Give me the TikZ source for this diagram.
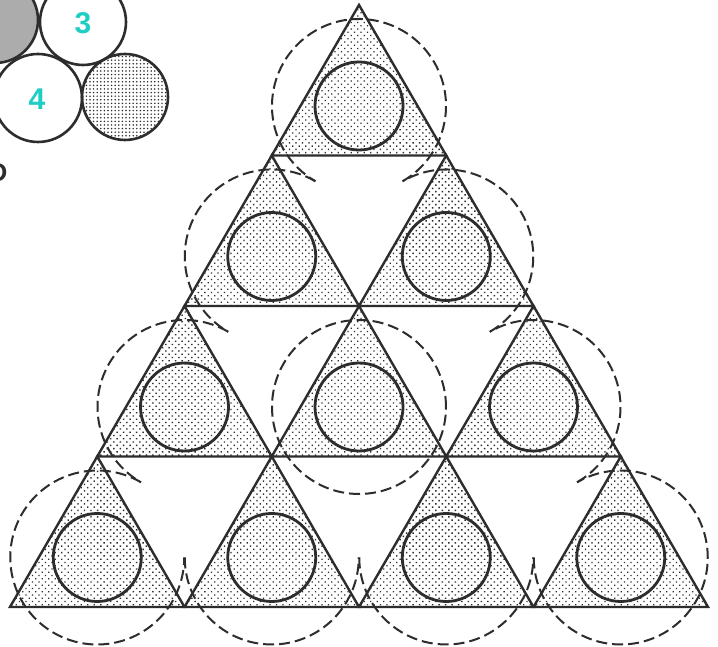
\documentclass[tikz,border=0pt]{standalone}
\usepackage{fontspec}
\setsansfont{Liberation Sans}
\usetikzlibrary{patterns.meta}
\definecolor{ink}{RGB}{45,45,45}
\definecolor{digit}{RGB}{30,205,195}
\begin{document}
\begin{tikzpicture}[x=1pt,y=1pt,
  tri/.style={draw=ink, line width=2.4pt, line join=miter,
    pattern={Dots[distance=4.6pt,angle=45,radius=0.95pt]}, pattern color=ink},
  inner/.style={draw=ink, line width=2.8pt},
  ring/.style={draw=ink, line width=2pt, dash pattern=on 11pt off 5pt},
  ball/.style={draw=ink, line width=2.6pt},
  lab/.style={font=\sffamily\bfseries\fontsize{30}{31}\selectfont, text=digit}
]
\useasboundingbox (0,0) rectangle (718,647);
\clip (0,0) rectangle (718,647);
\fill[white] (0,0) rectangle (718,647);

% small balls top-left
\draw[ball, fill=gray!65] (-5,627) circle[radius=43];
\draw[ball, fill=white] (83,625) circle[radius=43];
\draw[ball, fill=white] (38,549) circle[radius=44];
\draw[ball, pattern={Dots[distance=3.6pt,radius=0.85pt]}, pattern color=ink] (125,550) circle[radius=43];
\node[lab] (n3) at (83,624) {3};
\node[lab] (n4) at (37,548) {4};
\node[anchor=east, inner sep=0pt, font=\sffamily\bfseries\fontsize{26}{27}\selectfont, text=ink] (d) at (7.5,474.5) {D};

% triangles
\foreach \r in {0,...,3}{
  \foreach \k in {0,...,\r}{
    \pgfmathsetmacro{\ax}{359-\r*87.25+\k*174.5}
    \pgfmathsetmacro{\ay}{642-\r*150.5}
    \coordinate (A-\r-\k) at (\ax,\ay);
    \coordinate (C-\r-\k) at (\ax,\ay-101);
    \path[tri] (A-\r-\k) -- ++(-87.25,-150.5) -- ++(174.5,0) -- cycle;
    \draw[inner] (C-\r-\k) circle[radius=44];
  }
}

% dashed outer rings
\draw[ring] (C-0-0) ++(-60:87) arc[start angle=-60,end angle=240,radius=87];
\draw[ring] (C-1-0) ++(60:87) arc[start angle=60,end angle=240,radius=87];
\draw[ring] (C-2-0) ++(60:87) arc[start angle=60,end angle=240,radius=87];
\draw[ring] (C-3-0) ++(60:87) arc[start angle=60,end angle=360,radius=87];
\draw[ring] (C-3-1) ++(180:87) arc[start angle=180,end angle=360,radius=87];
\draw[ring] (C-3-2) ++(180:87) arc[start angle=180,end angle=360,radius=87];
\draw[ring] (C-3-3) ++(180:87) arc[start angle=180,end angle=480,radius=87];
\draw[ring] (C-2-2) ++(-60:87) arc[start angle=-60,end angle=120,radius=87];
\draw[ring] (C-1-1) ++(-60:87) arc[start angle=-60,end angle=120,radius=87];
\draw[ring] (C-2-1) circle[radius=87];
\end{tikzpicture}
\end{document}
